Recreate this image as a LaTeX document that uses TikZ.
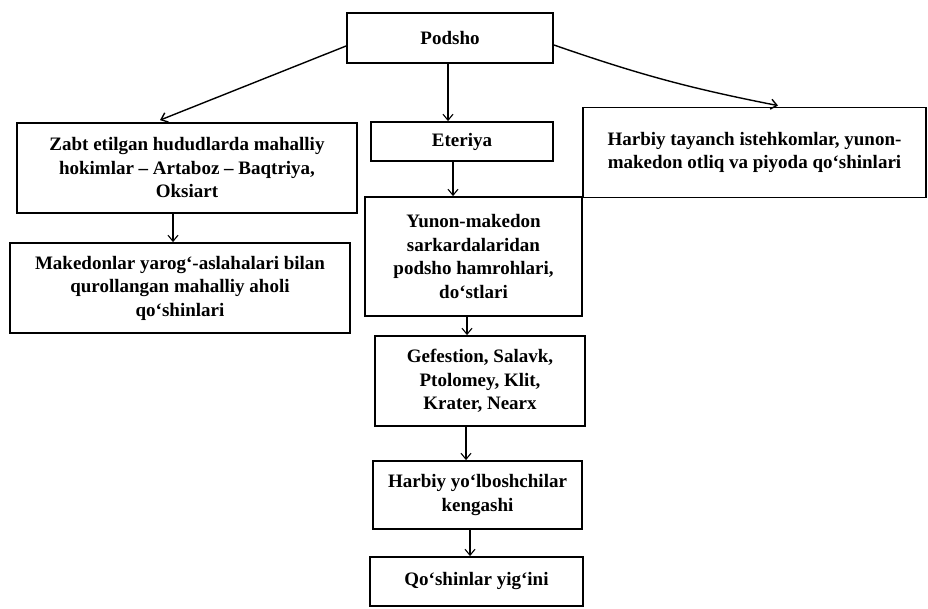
\documentclass[tikz,border=0pt]{standalone}
\usepackage{fontspec}
\setmainfont{Liberation Serif}
\usetikzlibrary{arrows.meta}
\begin{document}
\begin{tikzpicture}[x=1pt,y=-1pt,
  box/.style={draw, line width=1.8pt, align=center, inner sep=0pt,
    font=\bfseries\fontsize{19}{23.5}\selectfont},
  arr/.style={line width=1.1pt, -{Straight Barb[length=6pt,width=10pt]}}]
\useasboundingbox (0,0) rectangle (928,609);
\node[box, minimum width=206, minimum height=50] (podsho) at (450,38) {Podsho};
\node[box, minimum width=340, minimum height=90] (zabt) at (187,168)
  {Zabt etilgan hududlarda mahalliy\\hokimlar – Artaboz – Baqtriya,\\Oksiart};
\node[box, minimum width=182, minimum height=39] (eteriya) at (462,141.5) {Eteriya};
\node[box, minimum width=343, minimum height=90] (harbiyt) at (754.5,152.5)
  {Harbiy tayanch istehkomlar, yunon-\\makedon otliq va piyoda qo‘shinlari};
\node[box, minimum width=340, minimum height=90] (maked) at (180,288)
  {Makedonlar yarog‘-aslahalari bilan\\qurollangan mahalliy aholi\\qo‘shinlari};
\node[box, minimum width=217, minimum height=119] (yunon) at (473.5,256.5)
  {Yunon-makedon\\sarkardalaridan\\podsho hamrohlari,\\do‘stlari};
\node[box, minimum width=210, minimum height=90] (gef) at (480,381)
  {Gefestion, Salavk,\\Ptolomey, Klit,\\Krater, Nearx};
\node[box, minimum width=209, minimum height=68] (harbiyy) at (477.5,495)
  {Harbiy yo‘lboshchilar\\kengashi};
\node[box, minimum width=213, minimum height=49] (qoshin) at (476.5,581.5)
  {Qo‘shinlar yig‘ini};
\draw[arr, line width=1.4pt] ([yshift=-8pt]podsho.west) -- ([xshift=-27pt,yshift=2pt]zabt.north);
\draw[arr] ([xshift=-2pt]podsho.south) -- ([xshift=-2pt]podsho.south |- eteriya.north);
\draw[arr, line width=1.4pt] ([yshift=-7pt]podsho.east) to[bend right=4] ([xshift=23.5pt,yshift=1pt]harbiyt.north);
\draw[arr] ([xshift=-14pt]zabt.south) -- ([xshift=-14pt]zabt.south |- maked.north);
\draw[arr] ([xshift=-9pt]eteriya.south) -- ([xshift=-9pt]eteriya.south |- yunon.north);
\draw[arr] ([xshift=-6.5pt]yunon.south) -- ([xshift=-6.5pt]yunon.south |- gef.north);
\draw[arr] ([xshift=-14pt]gef.south) -- ([xshift=-14pt]gef.south |- harbiyy.north);
\draw[arr] ([xshift=-7.5pt]harbiyy.south) -- ([xshift=-7.5pt]harbiyy.south |- qoshin.north);
\end{tikzpicture}
\end{document}
